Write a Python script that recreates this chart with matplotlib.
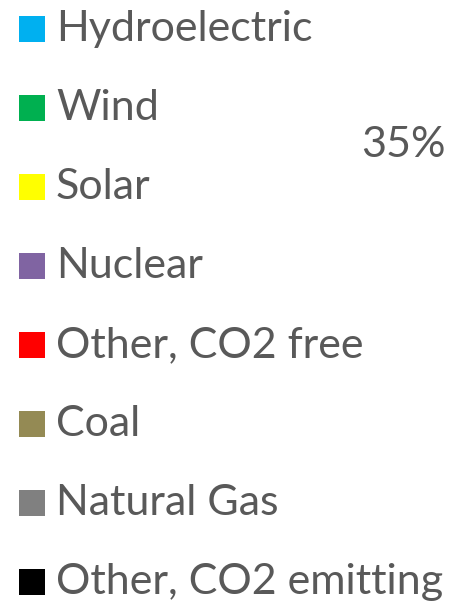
import matplotlib.pyplot as plt
from matplotlib.patches import Rectangle

# legend entries of the generation mix chart
sources = ['Hydroelectric', 'Wind', 'Solar', 'Nuclear', 'Other, CO2 free',
           'Coal', 'Natural Gas', 'Other, CO2 emitting']
colors = ['#00B0F0', '#00B050', '#FFFF00', '#8064A2', '#FF0000',
          '#948A54', '#808080', '#000000']
share_label = '35%'

plt.rcParams['font.family'] = ['Lato', 'DejaVu Sans']

fig = plt.figure(figsize=(4.51, 6.05), dpi=100)
ax = fig.add_axes([0, 0, 1, 1])
ax.set_xlim(0, 451)
ax.set_ylim(605, 0)
ax.axis('off')

y0 = 29
step = 79.0
box = 26
text_col = '#595959'
fs = 31

for i, (name, c) in enumerate(zip(sources, colors)):
    y = y0 + i * step
    ax.add_patch(Rectangle((19, y - box / 2), box, box, color=c, lw=0))
    ax.text(56, y, name, fontsize=fs, color=text_col, va='center', ha='left')

ax.text(446, 145, share_label, fontsize=fs, color=text_col, va='center', ha='right')

plt.savefig('out.png', dpi=100)
